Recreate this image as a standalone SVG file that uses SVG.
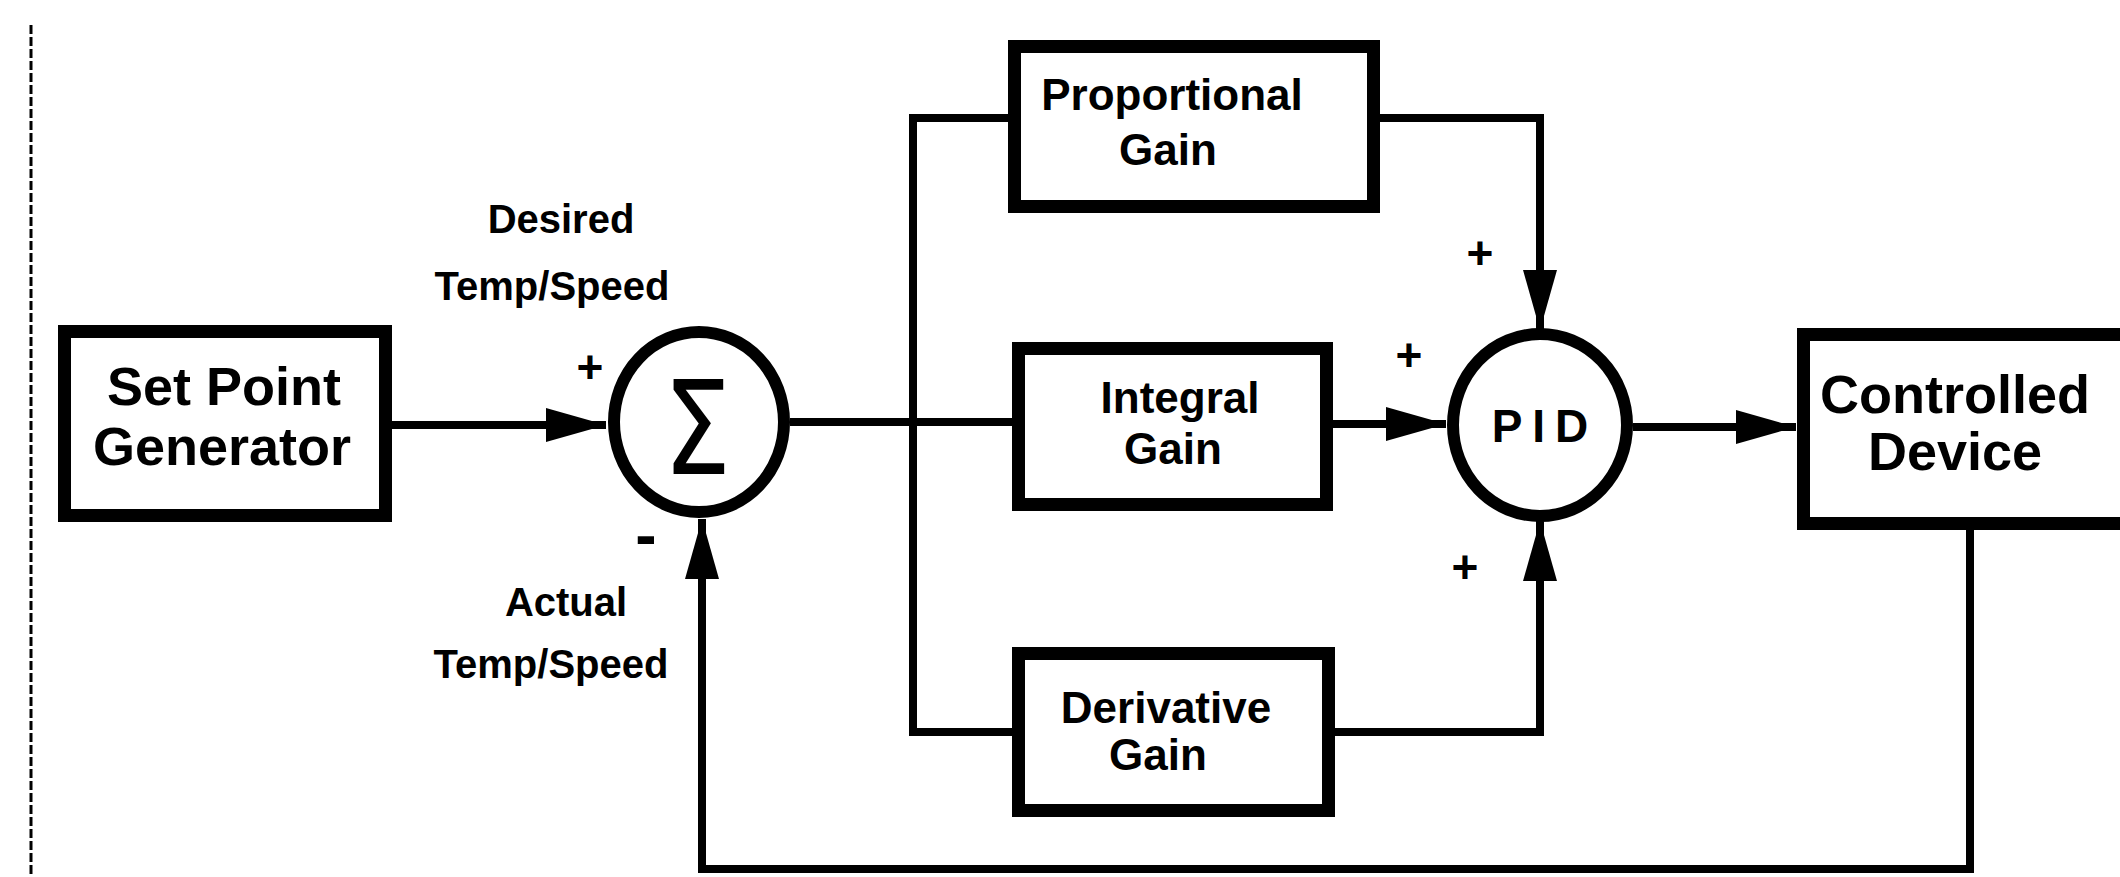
<svg xmlns="http://www.w3.org/2000/svg" width="2120" height="877" viewBox="0 0 2120 877">
<style>
.box{fill:#fff;stroke:#000;stroke-width:13}
.ring{fill:#fff;stroke:#000;stroke-width:12}
.ln{fill:none;stroke:#000;stroke-width:8}
.t{font-family:"Liberation Sans",Arial,sans-serif;font-weight:bold;fill:#000;text-anchor:middle}
.big{font-size:54px}
.mid{font-size:44px}
.lab{font-size:40px}
.sgn{font-size:46px}
</style>
<defs>
<marker id="ah" markerUnits="userSpaceOnUse" markerWidth="62" markerHeight="38" refX="60" refY="18" orient="auto">
<path d="M0,1 L60,18 L0,35 Z" fill="#000"/>
</marker>
</defs>
<rect width="2120" height="877" fill="#fff"/>
<line x1="31" y1="25" x2="31" y2="877" stroke="#000" stroke-width="3" stroke-dasharray="9 3"/>
<g id="connectors">
<path class="ln" d="M392,425 H606" marker-end="url(#ah)"/>
<path class="ln" d="M790,422 H1012"/>
<path class="ln" d="M1008,118 H913 V732 H1012"/>
<path class="ln" d="M1380,118 H1540 V330" marker-end="url(#ah)"/>
<path class="ln" d="M1333,424 H1446" marker-end="url(#ah)"/>
<path class="ln" d="M1335,732 H1540 V521" marker-end="url(#ah)"/>
<path class="ln" d="M1633,427 H1796" marker-end="url(#ah)"/>
<path class="ln" d="M1970,530 V869 H702 V519" marker-end="url(#ah)"/>
</g>
<g id="setpoint">
<rect class="box" x="64.5" y="331.5" width="321" height="184"/>
<text class="t big" x="224" y="405">Set Point</text>
<text class="t big" x="222" y="465">Generator</text>
</g>
<g id="sum">
<ellipse class="ring" cx="699" cy="422" rx="85" ry="90"/>
<text x="697" y="474" font-family="'DejaVu Sans',sans-serif" font-size="130" text-anchor="middle" textLength="68" lengthAdjust="spacingAndGlyphs">Σ</text>
</g>
<g id="proportional">
<rect class="box" x="1014.5" y="46.5" width="359" height="160"/>
<text class="t mid" x="1172" y="110">Proportional</text>
<text class="t mid" x="1168" y="165">Gain</text>
</g>
<g id="integral">
<rect class="box" x="1018.5" y="348.5" width="308" height="156"/>
<text class="t mid" x="1180" y="413">Integral</text>
<text class="t mid" x="1173" y="464">Gain</text>
</g>
<g id="derivative">
<rect class="box" x="1018.5" y="653.5" width="310" height="157"/>
<text class="t mid" x="1166" y="723">Derivative</text>
<text class="t mid" x="1158" y="770">Gain</text>
</g>
<g id="pid">
<ellipse class="ring" cx="1540" cy="425" rx="87" ry="91"/>
<text class="t" x="1545" y="442" font-size="46" letter-spacing="10">PID</text>
</g>
<g id="controlled">
<rect class="box" x="1803.5" y="334.5" width="400" height="189"/>
<text class="t big" x="1955" y="413">Controlled</text>
<text class="t big" x="1955" y="470">Device</text>
</g>
<g id="labels">
<text class="t lab" x="561" y="233">Desired</text>
<text class="t lab" x="552" y="300">Temp/Speed</text>
<text class="t lab" x="566" y="616">Actual</text>
<text class="t lab" x="551" y="678">Temp/Speed</text>
<text class="t sgn" x="590" y="383">+</text>
<text class="t" x="646" y="557" font-size="64">-</text>
<text class="t sgn" x="1409" y="371">+</text>
<text class="t sgn" x="1480" y="269">+</text>
<text class="t sgn" x="1465" y="583">+</text>
</g>
</svg>
